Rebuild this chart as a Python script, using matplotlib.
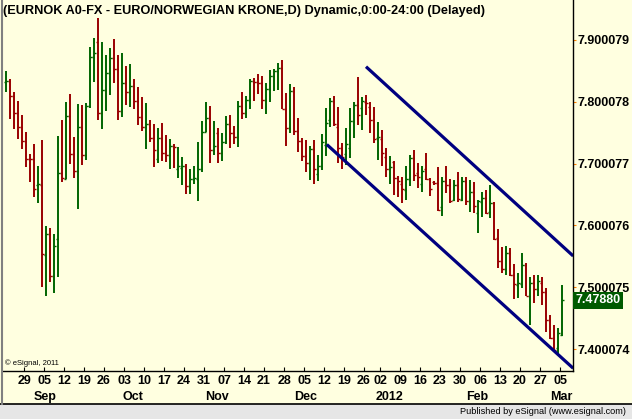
import matplotlib
matplotlib.use('Agg')
import matplotlib.pyplot as plt
import matplotlib.transforms as mtransforms
from matplotlib.patches import Rectangle
from matplotlib.lines import Line2D
import pandas as pd

plt.rcParams['font.family'] = ['Liberation Sans', 'DejaVu Sans']

opens = [7.8316, 7.8343, 7.8090, 7.7815, 7.7589, 7.7362, 7.7082, 7.7071, 7.6656, 7.6656,
         7.5524, 7.5859, 7.5179, 7.5788, 7.6845, 7.6753, 7.7767, 7.7163, 7.6877, 7.7589,
         7.7136, 7.7928, 7.8721, 7.8963, 7.7815, 7.8192, 7.8467, 7.8704, 7.8532, 7.7853,
         7.8306, 7.8160, 7.8252, 7.8020, 7.7750, 7.7594, 7.7637, 7.7411, 7.7071, 7.7411,
         7.7168, 7.7136, 7.7287, 7.6920, 7.6926, 7.6963, 7.6640, 7.6748, 7.6748, 7.6910,
         7.7513, 7.7734, 7.7217, 7.7492, 7.7179, 7.7357, 7.7637, 7.7492, 7.7427, 7.7928,
         7.7815, 7.8031, 7.8338, 7.8327, 7.8300, 7.8031, 7.8203, 7.8413, 7.8494, 7.8548,
         7.7880, 7.7573, 7.8171, 7.7530, 7.7362, 7.7120, 7.7012, 7.7233, 7.6829, 7.6958,
         7.7298, 7.7707, 7.8009, 7.7589, 7.7260, 7.7152, 7.7249, 7.7691, 7.7945, 7.7896,
         7.8004, 7.7918, 7.7702, 7.7416, 7.7406, 7.7109, 7.6920, 7.7034, 7.6775, 7.6673,
         7.6570, 7.6748, 7.7088, 7.6856, 7.6673, 7.6910, 7.6748, 7.6705, 7.6694, 7.6295,
         7.6726, 7.6651, 7.6414, 7.6651, 7.6414, 7.6716, 7.6392, 7.6538, 7.6198, 7.6387,
         7.6446, 7.6225, 7.6371, 7.5799, 7.5427, 7.5298, 7.5562, 7.5201, 7.5039, 7.5050,
         7.5357, 7.4851, 7.5066, 7.4969, 7.5066, 7.4921, 7.4473, 7.4177, 7.4015, 7.4231]
highs = [7.8500, 7.8370, 7.8165, 7.8020, 7.7788, 7.7513, 7.7158, 7.7319, 7.6969, 7.7384,
         7.5993, 7.5961, 7.5864, 7.7449, 7.7707, 7.7998, 7.8128, 7.7438, 7.7966, 7.7950,
         7.7982, 7.8888, 7.9033, 7.9357, 7.8974, 7.8758, 7.8866, 7.9017, 7.8758, 7.8791,
         7.8580, 7.8613, 7.8365, 7.8246, 7.8085, 7.7982, 7.7707, 7.7643, 7.7578, 7.7659,
         7.7459, 7.7400, 7.7319, 7.7276, 7.7114, 7.6996, 7.6915, 7.6963, 7.7352, 7.7691,
         7.7998, 7.7939, 7.7691, 7.7583, 7.7502, 7.7772, 7.7788, 7.7610, 7.8020, 7.8165,
         7.8095, 7.8370, 7.8381, 7.8451, 7.8424, 7.8306, 7.8516, 7.8532, 7.8634, 7.8677,
         7.8149, 7.8290, 7.8241, 7.7740, 7.7416, 7.7384, 7.7287, 7.7389, 7.7141, 7.7481,
         7.7901, 7.8063, 7.8095, 7.7918, 7.7330, 7.7578, 7.7901, 7.7998, 7.8403, 7.8079,
         7.8112, 7.7998, 7.7918, 7.7675, 7.7546, 7.7255, 7.7125, 7.7044, 7.6802, 7.6786,
         7.6964, 7.7141, 7.7222, 7.7017, 7.6964, 7.7168, 7.6764, 7.6721, 7.6953, 7.6791,
         7.6964, 7.6748, 7.6737, 7.6872, 7.6786, 7.6791, 7.6737, 7.6699, 7.6408, 7.6538,
         7.6575, 7.6651, 7.6387, 7.5945, 7.5659, 7.5670, 7.5638, 7.5379, 7.5223, 7.5557,
         7.5395, 7.5169, 7.5201, 7.5201, 7.5158, 7.4985, 7.4554, 7.4393, 7.4339, 7.5039]
lows = [7.8165, 7.7729, 7.7567, 7.7405, 7.7244, 7.6953, 7.6710, 7.6468, 7.6371, 7.5002,
        7.4856, 7.5077, 7.4899, 7.5174, 7.6710, 7.6748, 7.6996, 7.6764, 7.6274, 7.6980,
        7.7066, 7.7907, 7.8316, 7.7713, 7.7567, 7.7858, 7.8112, 7.8311, 7.7713, 7.7761,
        7.7944, 7.7923, 7.7885, 7.7626, 7.7535, 7.7233, 7.7357, 7.6953, 7.7017, 7.7044,
        7.7028, 7.6920, 7.6931, 7.6764, 7.6662, 7.6505, 7.6505, 7.6667, 7.6403, 7.6866,
        7.7508, 7.7017, 7.7147, 7.7017, 7.7050, 7.7325, 7.7260, 7.7319, 7.7265, 7.7729,
        7.7740, 7.7891, 7.8020, 7.8128, 7.7885, 7.7810, 7.7998, 7.8171, 7.8187, 7.7891,
        7.7287, 7.7503, 7.7465, 7.7190, 7.7050, 7.6872, 7.6743, 7.6678, 7.6726, 7.6899,
        7.7131, 7.7600, 7.7610, 7.7007, 7.6920, 7.6985, 7.7098, 7.7422, 7.7627, 7.7551,
        7.7794, 7.7503, 7.7341, 7.7066, 7.6964, 7.6780, 7.6678, 7.6495, 7.6468, 7.6371,
        7.6419, 7.6646, 7.6721, 7.6613, 7.6549, 7.6740, 7.6484, 7.6656, 7.6241, 7.6160,
        7.6522, 7.6371, 7.6392, 7.6387, 7.6392, 7.6333, 7.6225, 7.6198, 7.5886, 7.6134,
        7.6182, 7.6128, 7.5767, 7.5314, 7.5228, 7.5196, 7.5190, 7.4818, 7.4824, 7.4985,
        7.4851, 7.4393, 7.4743, 7.4851, 7.4705, 7.4269, 7.4161, 7.3961, 7.3907, 7.4204]
closes = [7.8338, 7.8090, 7.7815, 7.7589, 7.7362, 7.7082, 7.7071, 7.6586, 7.6672, 7.5535,
          7.5859, 7.5179, 7.5664, 7.6845, 7.6764, 7.7767, 7.7163, 7.6877, 7.7589, 7.7136,
          7.7928, 7.8721, 7.8791, 7.7815, 7.8192, 7.8467, 7.8704, 7.8532, 7.7853, 7.8306,
          7.8160, 7.8252, 7.8020, 7.7750, 7.7594, 7.7637, 7.7411, 7.7217, 7.7411, 7.7168,
          7.7136, 7.7287, 7.7265, 7.6963, 7.6963, 7.6640, 7.6748, 7.6764, 7.6910, 7.7513,
          7.7734, 7.7217, 7.7287, 7.7179, 7.7357, 7.7637, 7.7492, 7.7427, 7.7928, 7.7815,
          7.8031, 7.8338, 7.8316, 7.8300, 7.8031, 7.8203, 7.8413, 7.8494, 7.8548, 7.7891,
          7.7573, 7.8171, 7.7530, 7.7362, 7.7120, 7.7012, 7.7233, 7.6915, 7.6958, 7.7346,
          7.7653, 7.8009, 7.7643, 7.7249, 7.7114, 7.7319, 7.7691, 7.7945, 7.7788, 7.8015,
          7.7982, 7.7702, 7.7395, 7.7427, 7.7168, 7.6920, 7.6942, 7.6775, 7.6716, 7.6586,
          7.6748, 7.7088, 7.6818, 7.6791, 7.6877, 7.6748, 7.6586, 7.6683, 7.6252, 7.6726,
          7.6651, 7.6392, 7.6651, 7.6425, 7.6726, 7.6392, 7.6538, 7.6322, 7.6398, 7.6446,
          7.6209, 7.6371, 7.5783, 7.5427, 7.5298, 7.5562, 7.5196, 7.5050, 7.5061, 7.5357,
          7.4861, 7.5066, 7.4969, 7.5109, 7.4921, 7.4473, 7.4177, 7.3988, 7.4258, 7.4788]

# Trendkanal (Start- und Endpunkte in Bar-Index / Kurs)
upper_x = [90.0, 141.8]
upper_y = [7.8569, 7.5506]
lower_x = [80.2, 141.8]
lower_y = [7.7310, 7.3689]

ytick_vals = [7.400074, 7.500075, 7.600076, 7.700077, 7.800078, 7.900079]
last_label = '7.47880'
title = '(EURNOK A0-FX - EURO/NORWEGIAN KRONE,D) Dynamic,0:00-24:00 (Delayed)'

# Handelstage (26.12. fehlt)
dates = pd.bdate_range('2011-08-22', '2012-03-05')
dates = dates[dates != pd.Timestamp('2011-12-26')]

bg = '#FFFFE0'
red = '#990000'
green = '#006400'
navy = '#000080'

fig = plt.figure(figsize=(6.32, 4.19), dpi=100, facecolor=bg)
ax = fig.add_axes([2/632, 48/419, 571/632, 371/419])
ax.set_facecolor(bg)

xs = list(range(len(dates)))
cols = [green if c >= o else red for o, c in zip(opens, closes)]
ax.vlines(xs, lows, highs, colors=cols, linewidth=1.4)
ax.hlines(opens, [x - 0.5 for x in xs], xs, colors=cols, linewidth=1.0)
ax.hlines(closes, xs, [x + 0.5 for x in xs], colors=cols, linewidth=1.0)

ax.plot(upper_x, upper_y, color=navy, linewidth=2.3, solid_capstyle='butt')
ax.plot(lower_x, lower_y, color=navy, linewidth=2.3, solid_capstyle='butt')

ax.set_xlim(-1, 141.75)
ax.set_ylim(7.3645, 7.9648)

for s in ['left', 'top']:
    ax.spines[s].set_visible(False)
for s in ['right', 'bottom']:
    ax.spines[s].set_color('black')
    ax.spines[s].set_linewidth(1.0)

# y-Achse rechts
ax.yaxis.tick_right()
ax.set_yticks(ytick_vals)
ax.set_yticklabels(['%.6f' % v for v in ytick_vals])
ax.tick_params(axis='y', length=2, color='#FF8000', pad=1, labelsize=9)
for lab in ax.get_yticklabels():
    lab.set_fontweight('bold')

# x-Achse: Wochen und Monate
trans = mtransforms.blended_transform_factory(ax.transData, ax.transAxes)
week_pos = []
for i, d in enumerate(dates):
    if i > 0 and d.weekday() < dates[i - 1].weekday():
        week_pos.append(i)
        monday = d - pd.Timedelta(days=d.weekday())
        ax.text(i - 0.5, -0.028, monday.strftime('%d'), transform=trans,
                ha='center', va='center', fontsize=9, fontweight='bold')
ax.set_xticks([p - 0.5 for p in week_pos])
ax.set_xticklabels([])
ax.tick_params(axis='x', direction='in', length=3, width=0.8)

for i, d in enumerate(dates):
    if i > 0 and d.month != dates[i - 1].month:
        name = str(d.year) if d.month == 1 else d.strftime('%b')
        ax.text(i + 1.8, -0.071, name, transform=trans,
                ha='center', va='center', fontsize=9, fontweight='bold')

# letzter Kurs
ytrans = mtransforms.blended_transform_factory(ax.transAxes, ax.transData)
ax.text(1.004, closes[-1], last_label, transform=ytrans, ha='left', va='center',
        fontsize=9, fontweight='bold', color='white', clip_on=False,
        bbox=dict(boxstyle='square,pad=0.22', facecolor='#005A00', edgecolor='none'))

ax.text(0.005, 0.02, '\u00a9 eSignal, 2011', transform=ax.transAxes,
        fontsize=5.5, ha='left', va='center')

fig.text(3/632, 1 - 11/419, title, ha='left', va='center', fontsize=9.2, fontweight='bold')

# Rahmen unten
fig.patches.append(Rectangle((0, 0), 1, 15/419, transform=fig.transFigure,
                             facecolor='#E6E6E6', edgecolor='none', zorder=0))
fig.lines.append(Line2D([0, 1], [15/419, 15/419], transform=fig.transFigure,
                        color='black', linewidth=1.2))
fig.lines.append(Line2D([1.5/632, 1.5/632], [15/419, 1], transform=fig.transFigure,
                        color='#808080', linewidth=1.5))
fig.text(626/632, 8/419, 'Published by eSignal (www.esignal.com)', ha='right',
         va='center', fontsize=6.6)

fig.savefig('out.png', dpi=100, facecolor=bg)
